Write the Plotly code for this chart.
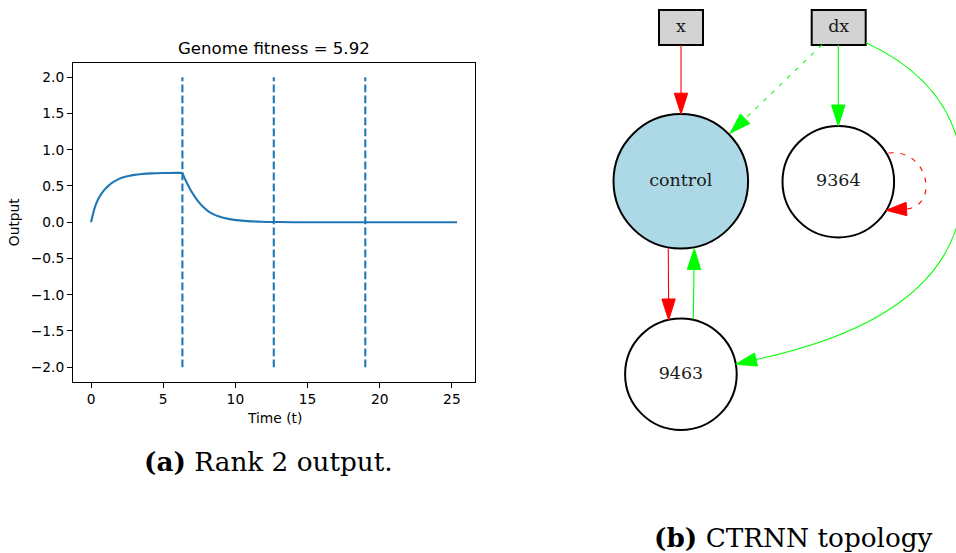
import math
import plotly.graph_objects as go

W, H = 956, 553

# ---------------- data: CTRNN output of the rank 2 genome ----------------
time_rise = [0, 0.15, 0.3, 0.5, 0.76, 1.0, 1.22, 1.5, 1.91, 2.3, 2.6, 3.0, 3.53, 4.2, 5.0, 5.8, 6.33]
output_rise = [0, 0.125, 0.225, 0.32, 0.405, 0.463, 0.505, 0.548, 0.594, 0.622, 0.638, 0.653, 0.665, 0.673, 0.678, 0.68, 0.68]
time_decay = [6.33, 6.5, 6.75, 7.0, 7.21, 7.45, 7.67, 8.13, 8.5, 8.82, 9.51, 10.44, 11.8, 13.0, 14.0, 25.35]
output_decay = [0.68, 0.60, 0.50, 0.41, 0.345, 0.28, 0.23, 0.15, 0.108, 0.082, 0.046, 0.022, 0.007, 0.002, 0.0, 0.0]
event_times = [6.33, 12.66, 19.0]
event_span = [-2.0, 2.0]
x_ticks = [0, 5, 10, 15, 20, 25]
y_ticks = [-2.0, -1.5, -1.0, -0.5, 0.0, 0.5, 1.0, 1.5, 2.0]
fitness = 5.92

# ---------------- data: CTRNN topology ----------------
input_nodes = ["x", "dx"]
hidden_nodes = ["control", "9364", "9463"]
edge_src = ["x", "dx", "dx", "9364", "control", "9463", "dx"]
edge_dst = ["control", "control", "9364", "9364", "9463", "control", "9463"]
edge_sign = ["-", "+", "+", "-", "-", "+", "+"]
edge_style = ["solid", "dotted", "solid", "dashed", "solid", "solid", "solid"]

# ---------------- layout constants (pixels) ----------------
BLUE = "#1f77b4"
pos = {"x": (681, 27.5), "dx": (838.7, 27.5),
       "control": (680.8, 181.3), "9364": (838.3, 181.7), "9463": (680.9, 374.2)}
box_half = {"x": (22, 17.5), "dx": (27, 17.5)}
radius = {"control": 67.3, "9364": 55.8, "9463": 55.8}
node_fill = {"control": "#add8e6", "9364": "white", "9463": "white"}
sign_color = {"+": "#00ff00", "-": "#ff0000"}
dash_map = {"solid": "solid", "dotted": "4px,7px", "dashed": "5px,7px"}
# edge geometry: start, (cubic control triples...), arrow base / tip
edge_geom = [
    [(681, 45), (681, 114.2)],
    [(821.7, 45), (730, 133.3)],
    [(838.3, 45), (838.3, 126)],
    [(888.5, 153), (928, 148), (940, 205), (906.5, 209), (886, 210.3)],
    [(668.3, 248.5), (668.7, 320)],
    [(693.3, 319), (694.3, 248.5)],
    [(866, 42.7), (925, 70), (964, 115), (963, 185), (962, 280), (880, 333), (756, 359.5), (735.7, 364.3)],
]
ARROW_LEN, ARROW_HALF = 21, 6.7

ax_l, ax_r, ax_t, ax_b = 73, 475, 62.7, 381.7

fig = go.Figure()

# left plot traces
for tx, vy in ((time_rise, output_rise), (time_decay, output_decay)):
    fig.add_trace(go.Scatter(x=tx, y=vy, mode="lines",
                             line=dict(color=BLUE, width=2.1, shape="spline", smoothing=0.8),
                             showlegend=False, hoverinfo="skip", xaxis="x", yaxis="y"))
ev_x, ev_y = [], []
for t in event_times:
    ev_x += [t, t, None]
    ev_y += [event_span[0], event_span[1], None]
fig.add_trace(go.Scatter(x=ev_x, y=ev_y, mode="lines",
                         line=dict(color=BLUE, width=2.1, dash="7.7px,3.3px"),
                         showlegend=False, hoverinfo="skip", xaxis="x", yaxis="y"))

# topology: nodes
shapes = []
for n in input_nodes:
    cx, cy = pos[n]
    hw, hh = box_half[n]
    shapes.append(dict(type="rect", xref="x2", yref="y2", x0=cx - hw, x1=cx + hw, y0=cy - hh, y1=cy + hh,
                       fillcolor="#d3d3d3", line=dict(color="black", width=2), layer="below"))
for n in hidden_nodes:
    cx, cy = pos[n]
    r = radius[n]
    shapes.append(dict(type="circle", xref="x2", yref="y2", x0=cx - r, x1=cx + r, y0=cy - r, y1=cy + r,
                       fillcolor=node_fill[n], line=dict(color="black", width=2), layer="below"))

# topology: edges
for geom, sign, style in zip(edge_geom, edge_sign, edge_style):
    col = sign_color[sign]
    tip = geom[-1]
    if len(geom) == 2:
        s = geom[0]
        dx, dy = tip[0] - s[0], tip[1] - s[1]
        L = math.hypot(dx, dy)
        ux, uy = dx / L, dy / L
        base = (tip[0] - ux * ARROW_LEN, tip[1] - uy * ARROW_LEN)
        d = f"M {s[0]},{s[1]} L {base[0]},{base[1]}"
    else:
        base = geom[-2]
        pts = geom[:-1]
        d = f"M {pts[0][0]},{pts[0][1]}"
        for i in range(1, len(pts), 3):
            a, b, c = pts[i], pts[i + 1], pts[i + 2]
            d += f" C {a[0]},{a[1]} {b[0]},{b[1]} {c[0]},{c[1]}"
        dx, dy = tip[0] - base[0], tip[1] - base[1]
        L = math.hypot(dx, dy)
        ux, uy = dx / L, dy / L
    shapes.append(dict(type="path", xref="x2", yref="y2", path=d,
                       line=dict(color=col, width=1.1, dash=dash_map[style])))
    px, py = -uy * ARROW_HALF, ux * ARROW_HALF
    tri = (f"M {tip[0]},{tip[1]} L {base[0] + px},{base[1] + py} "
           f"L {base[0] - px},{base[1] - py} Z")
    shapes.append(dict(type="path", xref="x2", yref="y2", path=tri,
                       fillcolor=col, line=dict(color=col, width=1)))

all_nodes = input_nodes + hidden_nodes
fig.add_trace(go.Scatter(x=[pos[n][0] for n in all_nodes], y=[pos[n][1] for n in all_nodes],
                         mode="text", text=all_nodes, textposition="middle center",
                         textfont=dict(family="DejaVu Serif", size=17.5, color="#1a1a1a"),
                         showlegend=False, hoverinfo="skip", xaxis="x2", yaxis="y2"))

sans = "DejaVu Sans"
annotations = [
    dict(text=f"Genome fitness = {fitness:.2f}", x=(ax_l + ax_r) / 2, y=48,
         font=dict(family=sans, size=16.6, color="black")),
    dict(text="Time (t)", x=(ax_l + ax_r) / 2, y=418, font=dict(family=sans, size=13.8, color="black")),
    dict(text="Output", x=14, y=(ax_t + ax_b) / 2, textangle=-90, font=dict(family=sans, size=13.8, color="black")),
    dict(text="<b>(a)</b> Rank 2 output.", x=268, y=461,
         font=dict(family="DejaVu Serif", size=26.3, color="black")),
    dict(text="<b>(b)</b> CTRNN topology", x=793, y=537,
         font=dict(family="DejaVu Serif", size=26.3, color="black")),
]
for a in annotations:
    a.update(xref="x2", yref="y2", showarrow=False, xanchor="center", yanchor="middle")

fig.update_layout(
    width=W, height=H, margin=dict(l=0, r=0, t=0, b=0),
    paper_bgcolor="white", plot_bgcolor="rgba(0,0,0,0)",
    showlegend=False,
    xaxis=dict(domain=[ax_l / W, ax_r / W], anchor="y", range=[-1.25, 26.6],
               tickvals=x_ticks, ticktext=[str(v) for v in x_ticks],
               ticks="outside", ticklen=5, tickwidth=1.1, tickcolor="black",
               showline=True, linecolor="black", linewidth=1.1, mirror=True,
               showgrid=False, zeroline=False,
               tickfont=dict(family=sans, size=13.8, color="black")),
    yaxis=dict(domain=[1 - ax_b / H, 1 - ax_t / H], anchor="x", range=[-2.2, 2.2],
               tickvals=y_ticks, tickformat=".1f",
               ticks="outside", ticklen=5, tickwidth=1.1, tickcolor="black",
               showline=True, linecolor="black", linewidth=1.1, mirror=True,
               showgrid=False, zeroline=False,
               tickfont=dict(family=sans, size=13.8, color="black")),
    xaxis2=dict(domain=[0, 1], anchor="y2", range=[0, W], visible=False, fixedrange=True),
    yaxis2=dict(domain=[0, 1], anchor="x2", range=[H, 0], visible=False, fixedrange=True),
    shapes=shapes, annotations=annotations,
)

fig.write_html("out.html")
